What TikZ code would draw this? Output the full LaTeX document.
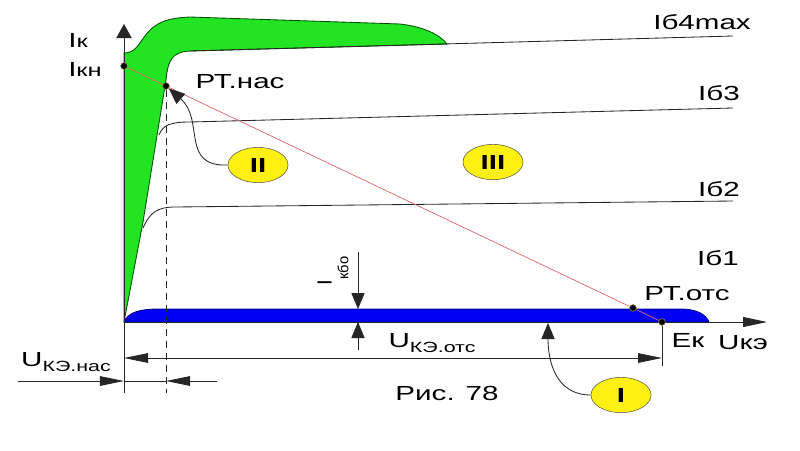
\documentclass[tikz,border=0pt]{standalone}
\usepackage{graphicx}
\usepackage{fontspec}
\setmainfont{Liberation Sans}
\usepackage{tikz}
\usetikzlibrary{shapes,arrows.meta}
\definecolor{zone}{RGB}{35,228,35}
\definecolor{band}{RGB}{0,0,245}
\definecolor{tag}{RGB}{255,240,20}
\definecolor{load}{RGB}{225,100,100}
\newcommand\wide[1]{\scalebox{1.45}[1]{#1}}
\newcommand\lowidx[2]{\raisebox{#1}{\fontsize{10.5}{12}\selectfont #2}}
\tikzstyle{line} =
        [
                line width = 0.6pt,
                draw = black!85
        ]
\tikzstyle{dimline} =
        [
                line,
                -{Triangle[length=6mm,width=2.4mm]}
        ]
\tikzstyle{shortline} =
        [
                line,
                -{Triangle[length=4mm,width=3.3mm]}
        ]
\tikzstyle{region} =
        [
                ellipse,
                draw = black!60!yellow!70!black,
                fill = tag,
                inner sep = 0pt,
                minimum width = 1.5cm,
                minimum height = 0.88cm,
                font = \fontsize{14.5}{16}\selectfont\bfseries
        ]
\tikzstyle{dot} =
        [
                circle,
                draw = black!50!yellow,
                fill = black,
                inner sep = 0pt,
                minimum size = 1.7mm
        ]
\tikzstyle{label} =
        [
                inner sep = 0pt,
                font = \fontsize{14.5}{16}\selectfont
        ]

\begin{document}
\begin{tikzpicture}[x=0.025cm, y=-0.025cm]
    \useasboundingbox (0,0) rectangle (800,450);
    % points
    \coordinate (O) at (124,322);
    \coordinate (ytop) at (124,24);
    \coordinate (ybot) at (124,393);
    \coordinate (xend) at (767,322);
    \coordinate (dashbot) at (166,393);
    \coordinate (ektick) at (662,366);
    % regions
    \fill [zone, draw=black!70!green, line width=0.6pt]
        (O) -- (124,53) .. controls (135,53) and (138,45) .. (145,36)
        .. controls (155,22) and (168,18) .. (190,17) -- (400,24)
        .. controls (425,27) and (440,35) .. (447,44) -- (190,51)
        .. controls (172,52) and (168,60) .. (166,80) -- (143,222) -- cycle;
    \fill [band, draw=blue!50!black, line width=0.6pt]
        (O) .. controls (128,312) and (140,309) .. (160,309) -- (680,309)
        .. controls (698,309) and (706,315) .. (709,322) -- cycle;
    % base current curves
    \draw [line] (190,51) -- (733,36);
    \draw [line] (159,135) .. controls (163,125) and (170,122) .. (190,122) -- (733,108);
    \draw [line] (143,228) .. controls (150,212) and (158,207) .. (175,207) -- (733,201);
    % axes
    \draw [line, -{Triangle[length=3.5mm,width=3.8mm]}] (ybot) -- (ytop);
    \draw [line, -{Triangle[length=6mm,width=2.5mm]}] (O) -- (xend);
    % operating points
    \node [dot] (ikn) at (124,66) {};
    \node [dot] (ptnas) at (166,86) {};
    \node [dot] (ptots) at (633,308) {};
    \node [dot] (ek) at (662,322) {};
    \draw [load, line width=0.5pt] (ikn) -- (ptnas) -- (ptots) -- (ek);
    \draw [line, dash pattern=on 5pt off 3.5pt] (ptnas) -- (dashbot);
    \draw [line] (ek) -- (ektick);
    % dimensions
    \coordinate (otsL) at (124,358);
    \coordinate (otsR) at (662,358);
    \coordinate (otsM) at (400,358);
    \draw [dimline] (otsM) -- (otsL);
    \draw [dimline] (otsM) -- (otsR);
    \coordinate (nasA) at (18,381);
    \coordinate (nasL) at (124,381);
    \coordinate (nasB) at (217,381);
    \coordinate (nasR) at (166,381);
    \draw [dimline] (nasA) -- (nasL);
    \draw [dimline] (nasB) -- (nasR);
    \draw [line] (nasL) -- (nasR);
    \coordinate (kboT) at (358,252);
    \coordinate (kboA) at (358,309);
    \coordinate (kboB) at (358,322);
    \coordinate (kboD) at (358,350);
    \draw [shortline] (kboT) -- (kboA);
    \draw [shortline] (kboD) -- (kboB);
    % regions marks
    \node [region] (reg2) at (258,165) {\wide{II}};
    \node [region] (reg3) at (493,162) {\wide{III}};
    \node [region] (reg1) at (621,395) {\wide{I}};
    \coordinate (reg1pt) at (548,323);
    \draw [shortline] (reg2.west) .. controls (180,167) and (205,120) .. (ptnas);
    \draw [shortline] (reg1.west) .. controls (555,395) and (548,360) .. (reg1pt);
    % labels
    \node [label] (lik) at (78,40) {\wide{I{\fontsize{12.5}{14}\selectfont к}}};
    \node [label] (likn) at (85,69) {\wide{I{\fontsize{12.5}{14}\selectfont кн}}};
    \node [label] (lptnas) at (240,82) {\wide{РТ.нас}};
    \node [label] (lptots) at (687,294) {\wide{РТ.отс}};
    \node [label] (lib4) at (702,22) {\wide{Iб4max}};
    \node [label] (lib3) at (719,93) {\wide{Iб3}};
    \node [label] (lib2) at (719,189) {\wide{Iб2}};
    \node [label] (lib1) at (718,258) {\wide{Iб1}};
    \node [label] (lek) at (688,340) {\wide{Eк}};
    \node [label] (luke) at (743,343) {\wide{Uкэ}};
    \node [label] (luots) at (432,343) {\wide{U\lowidx{-4pt}{КЭ.отс}}};
    \node [label] (lunas) at (66,362) {\wide{U\lowidx{-4pt}{КЭ.нас}}};
    \node [label, rotate=90] (likbo) at (333,271) {I\lowidx{-12pt}{кбо}};
    \node [label] (lfig) at (447,393) {\wide{Рис. 78}};
\end{tikzpicture}
\end{document}
